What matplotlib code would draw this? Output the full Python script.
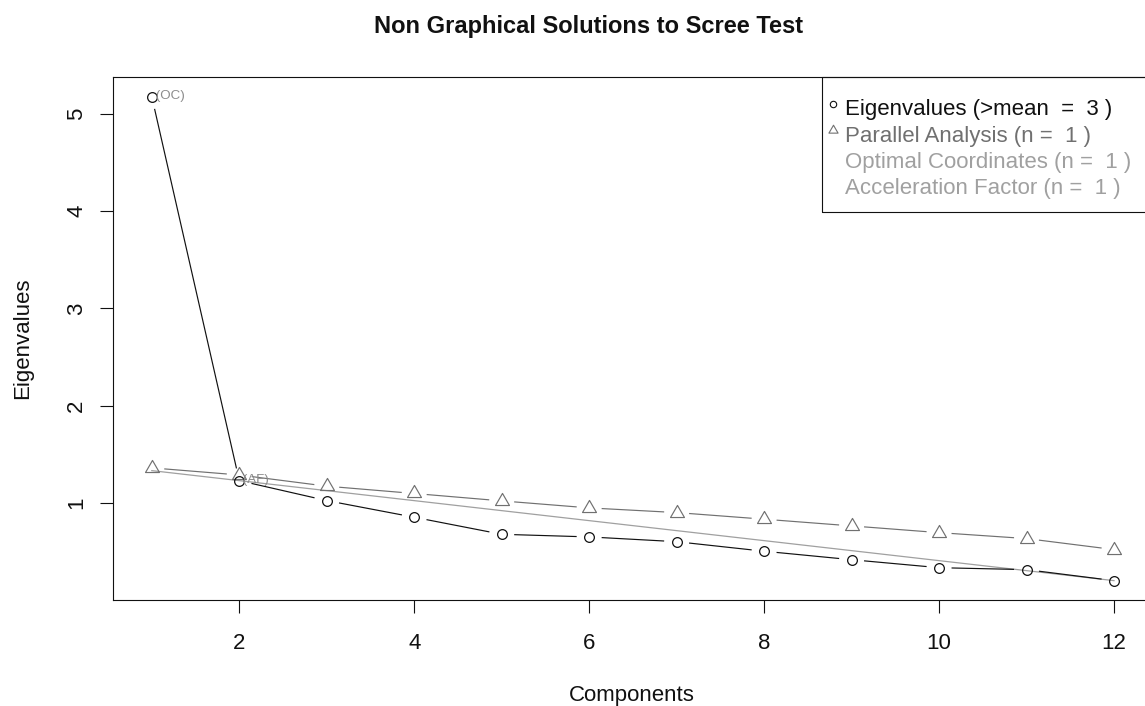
import matplotlib
matplotlib.use("Agg")
import matplotlib.pyplot as plt
from matplotlib.path import Path
from matplotlib.patches import FancyArrowPatch, Rectangle
from matplotlib.lines import Line2D

# ---------------- data ----------------
components = [1, 2, 3, 4, 5, 6, 7, 8, 9, 10, 11, 12]
eigenvalues = [5.175, 1.232, 1.027, 0.856, 0.681, 0.654, 0.605, 0.507, 0.420, 0.338, 0.318, 0.205]
parallel = [1.363, 1.290, 1.175, 1.100, 1.024, 0.952, 0.904, 0.836, 0.767, 0.698, 0.637, 0.524]
n_kaiser = 3
n_parallel = 1
n_oc = 1
n_af = 1
x_ticks = [2, 4, 6, 8, 10, 12]
y_ticks = [1, 2, 3, 4, 5]
title = "Non Graphical Solutions to Scree Test"
x_label = "Components"
y_label = "Eigenvalues"
legend_labels = [
    f"Eigenvalues (>mean  =  {n_kaiser} )",
    f"Parallel Analysis (n =  {n_parallel} )",
    f"Optimal Coordinates (n =  {n_oc} )",
    f"Acceleration Factor (n =  {n_af} )",
]

# ---------------- style ----------------
plt.rcParams["font.family"] = ["Liberation Sans", "DejaVu Sans"]
W, H, DPI = 1145, 706, 100
BLACK = "#111111"
PA_GRAY = "#707070"
OC_GRAY = "#a0a0a0"
LBL_GRAY = "#8c8c8c"
FS = 16


def fx(px):
    return px / W


def fy(py):
    return 1 - py / H


fig = plt.figure(figsize=(W / DPI, H / DPI), dpi=DPI)
fig.patch.set_facecolor("white")

left, right, top, bottom = 113.3, 1152.5, 77.3, 600.0
ax = fig.add_axes([fx(left), fy(bottom), (right - left) / W, (bottom - top) / H])

# R-style 4% axis expansion
xr = max(components) - min(components)
ax.set_xlim(min(components) - 0.04 * xr, max(components) + 0.04 * xr)
yr = max(eigenvalues) - min(eigenvalues)
ax.set_ylim(min(eigenvalues) - 0.04 * yr, max(eigenvalues) + 0.04 * yr)

# triangle marker centred on its centroid (like R pch = 2)
tri = Path([(-1, -0.577), (1, -0.577), (0, 1.155), (-1, -0.577)],
           [Path.MOVETO, Path.LINETO, Path.LINETO, Path.CLOSEPOLY])

# Optimal coordinates line: through (2, ev2) and (12, ev12), from x = 1
slope = (eigenvalues[-1] - eigenvalues[n_oc]) / (components[-1] - components[n_oc])
oc_line = [eigenvalues[n_oc] + slope * (c - components[n_oc]) for c in components]
ax.plot(components, oc_line, color=OC_GRAY, lw=0.9, zorder=1)


def type_b(xs, ys, color, lw):
    for i in range(len(xs) - 1):
        p = FancyArrowPatch((xs[i], ys[i]), (xs[i + 1], ys[i + 1]),
                            arrowstyle="-", shrinkA=9.0, shrinkB=9.0,
                            color=color, lw=lw, transform=ax.transData,
                            capstyle="butt", zorder=2)
        ax.add_patch(p)


type_b(components, parallel, PA_GRAY, 0.85)
type_b(components, eigenvalues, BLACK, 0.85)

ax.plot(components, parallel, ls="none", marker=tri, ms=11.6, mfc="none",
        mec=PA_GRAY, mew=0.85, zorder=3)
ax.plot(components, eigenvalues, ls="none", marker="o", ms=7.0, mfc="none",
        mec=BLACK, mew=0.9, zorder=3)

# annotations
ax.annotate(" (OC)", xy=(components[n_oc - 1], eigenvalues[n_oc - 1]),
            xytext=(0, -1.5), textcoords="offset points", ha="left",
            va="baseline", fontsize=9.6, color=LBL_GRAY, zorder=4)
ax.annotate(" (AF)", xy=(components[n_af], eigenvalues[n_af]),
            xytext=(0, -1.5), textcoords="offset points", ha="left",
            va="baseline", fontsize=9.6, color=LBL_GRAY, zorder=4)

# axes styling
for s in ax.spines.values():
    s.set_linewidth(0.8)
    s.set_color(BLACK)
ax.set_xticks(x_ticks)
ax.set_yticks(y_ticks)
ax.set_xticklabels([str(v) for v in x_ticks])
ax.set_yticklabels([str(v) for v in y_ticks])
ax.tick_params(axis="both", length=9.6, width=0.8, color=BLACK,
               labelsize=FS, labelcolor=BLACK)
ax.tick_params(axis="x", pad=14)
ax.tick_params(axis="y", pad=9.1)
for lbl in ax.get_yticklabels():
    lbl.set_rotation(90)
    lbl.set_va("center")

# titles
fig.text(fx(588.5), fy(33.3), title, ha="center", va="baseline",
         fontsize=17, fontweight="bold", color=BLACK)
fig.text(fx(632), fy(700.8), x_label, ha="center", va="baseline",
         fontsize=FS, color=BLACK)
fig.text(fx(28.3), fy(338.7), y_label, ha="center", va="baseline",
         rotation=90, rotation_mode="anchor", fontsize=FS, color=BLACK)

# legend (box anchored in top-right corner of plot region)
lg_left, lg_top, lg_bottom = 821.7, top, 211.7
fig.add_artist(Rectangle((fx(lg_left), fy(lg_bottom)), (right - lg_left) / W,
                         (lg_bottom - lg_top) / H, transform=fig.transFigure,
                         fill=False, ec=BLACK, lw=0.8))
row0, row_step = 107.5, 26.1
em_px = FS * DPI / 72
text_colors = [BLACK, PA_GRAY, OC_GRAY, OC_GRAY]
for i, (lab, col) in enumerate(zip(legend_labels, text_colors)):
    cy = row0 + i * row_step
    fig.text(fx(845), fy(cy + 0.358 * em_px), lab, ha="left", va="baseline",
             fontsize=FS, color=col)
fig.add_artist(Line2D([fx(833.3)], [fy(row0 - 3.5)], transform=fig.transFigure,
                      ls="none", marker="o", ms=4.6, mfc="none", mec=BLACK, mew=0.8))
fig.add_artist(Line2D([fx(833.3)], [fy(row0 + row_step - 3.5)], transform=fig.transFigure,
                      ls="none", marker=tri, ms=7.6, mfc="none", mec=PA_GRAY, mew=0.8))

fig.savefig("out.png", dpi=DPI, facecolor="white")
